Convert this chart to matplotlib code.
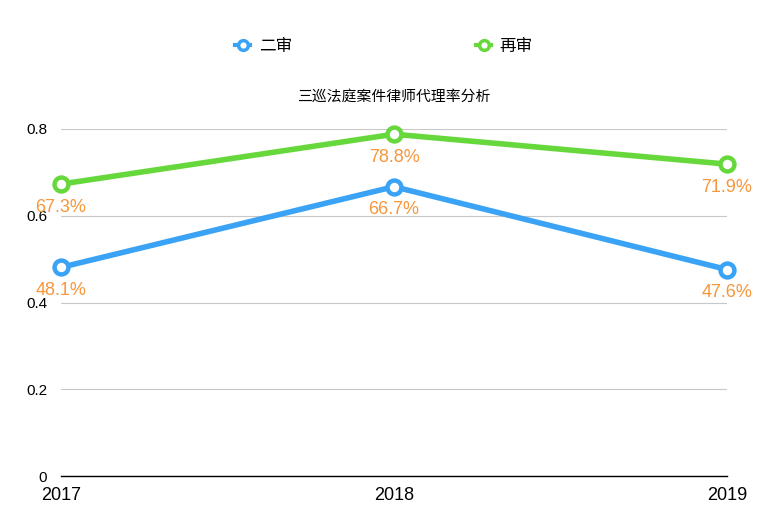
import matplotlib
matplotlib.use('Agg')
import matplotlib.pyplot as plt
from matplotlib.lines import Line2D

plt.rcParams['font.family'] = ['Liberation Sans', 'Noto Sans CJK SC']

years = ['2017', '2018', '2019']
second = [0.481, 0.667, 0.476]
retrial = [0.673, 0.788, 0.719]
series_names = ['二审', '再审']
title = '三巡法庭案件律师代理率分析'

blue = '#3aa3f5'
green = '#66d83b'
orange = '#f7963a'

fig = plt.figure(figsize=(7.68, 5.3), dpi=100)
ax = fig.add_axes([61/768, 1 - 476/530, 666/768, (476 - 129)/530])

x = range(len(years))
handles = []
for vals, col, name in [(second, blue, series_names[0]), (retrial, green, series_names[1])]:
    ax.plot(x, vals, color=col, lw=4, marker='o', ms=10, mfc='white', mec=col, mew=3.2,
            clip_on=False, zorder=3)
    for xi, v in zip(x, vals):
        ax.annotate(f'{v*100:.1f}%', (xi, v), xytext=(0, -16.5), textcoords='offset points',
                    ha='center', va='center', color=orange, fontsize=13, zorder=4)
    handles.append(Line2D([], [], color=col, lw=3, marker='o', ms=7, mfc='white',
                          mec=col, mew=2.5, label=name))

ax.set_xlim(0, 2)
ax.set_ylim(0, 0.8)
ax.set_xticks(list(x))
ax.set_xticklabels(years, fontsize=13)
ax.set_yticks([0, 0.2, 0.4, 0.6, 0.8])
ax.set_yticklabels(['0', '0.2', '0.4', '0.6', '0.8'], fontsize=11)
ax.tick_params(length=0)
ax.tick_params(axis='y', pad=10)
ax.tick_params(axis='x', pad=8)
ax.grid(axis='y', color='#c8c8c8', lw=0.8)
ax.set_axisbelow(True)
for s in ['top', 'right', 'left']:
    ax.spines[s].set_visible(False)
ax.spines['bottom'].set_color('black')
ax.spines['bottom'].set_linewidth(1)

fig.text(394/768, 1 - 97/530, title, ha='center', va='center', fontsize=10.7)

fig.legend(handles=handles, loc='center', bbox_to_anchor=(0.5, 1 - 46/530), ncol=2,
           frameon=False, handlelength=0.9, columnspacing=11.05, fontsize=12,
           handletextpad=0.5)

fig.savefig('out.png', dpi=100)
